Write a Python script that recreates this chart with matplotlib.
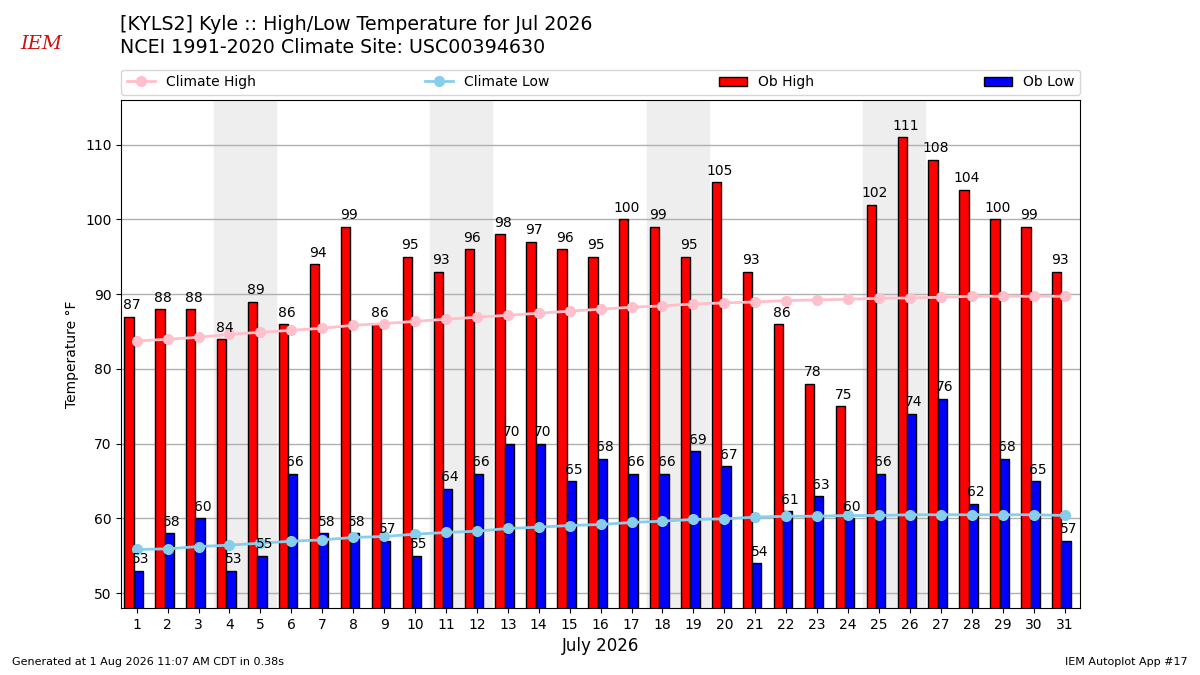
import numpy as np
import matplotlib.pyplot as plt

days = np.arange(1, 32)
ob_high = [87, 88, 88, 84, 89, 86, 94, 99, 86, 95, 93, 96, 98, 97, 96, 95,
           100, 99, 95, 105, 93, 86, 78, 75, 102, 111, 108, 104, 100, 99, 93]
ob_low = [53, 58, 60, 53, 55, 66, 58, 58, 57, 55, 64, 66, 70, 70, 65, 68,
          66, 66, 69, 67, 54, 61, 63, 60, 66, 74, 76, 62, 68, 65, 57]
clim_high = [83.75, 83.98, 84.24, 84.64, 84.91, 85.18, 85.45, 85.85, 86.07, 86.38,
             86.65, 86.92, 87.19, 87.46, 87.73, 88.0, 88.26, 88.44, 88.7, 88.84,
             88.97, 89.15, 89.24, 89.33, 89.46, 89.5, 89.6, 89.73, 89.73, 89.73, 89.73]
clim_low = [55.85, 55.94, 56.25, 56.43, 56.7, 56.96, 57.14, 57.46, 57.59, 57.9,
            58.13, 58.3, 58.66, 58.84, 59.06, 59.2, 59.47, 59.64, 59.87, 59.95,
            60.18, 60.3, 60.3, 60.4, 60.4, 60.5, 60.5, 60.5, 60.5, 60.5, 60.4]
weekends = [(4, 5), (11, 12), (18, 19), (25, 26)]

fig = plt.figure(figsize=(12, 6.75), dpi=100)
ax = fig.add_axes([0.101, 0.099, 0.799, 0.753])

for a, b in weekends:
    ax.axvspan(a - 0.5, b + 0.5, color='#eeeeee', zorder=0)

ax.plot(days, clim_high, color='pink', marker='o', ms=7, lw=2,
        label='Climate High', zorder=3)
ax.plot(days, clim_low, color='skyblue', marker='o', ms=7, lw=2,
        label='Climate Low', zorder=3)
ax.bar(days - 0.4, ob_high, width=0.3, align='edge', color='r', edgecolor='k',
       label='Ob High', zorder=2)
ax.bar(days - 0.1, ob_low, width=0.3, align='edge', color='b', edgecolor='k',
       label='Ob Low', zorder=2)

for d, hi, lo in zip(days, ob_high, ob_low):
    ax.text(d - 0.15, hi + 0.6, str(hi), ha='center', va='bottom', fontsize=10, zorder=4)
    ax.text(d + 0.13, lo + 0.6, str(lo), ha='center', va='bottom', fontsize=10, zorder=4)

ax.set_xlim(0.5, 31.5)
ax.set_ylim(48, 116)
ax.set_xticks(days)
ax.set_yticks(np.arange(50, 111, 10))
ax.yaxis.grid(True, color='#b0b0b0', lw=1, zorder=1)
ax.set_axisbelow(True)
ax.set_ylabel('Temperature \u00b0F', fontsize=10)
ax.set_xlabel('July 2026', fontsize=12)

ax.legend(ncol=4, mode='expand', loc='lower left',
          bbox_to_anchor=(0, 1.01, 1, 0.05), fontsize=10, borderaxespad=0)

# title block and footer
fig.text(0.1, 0.963, '[KYLS2] Kyle :: High/Low Temperature for Jul 2026', fontsize=13.7,
         va='center')
fig.text(0.1, 0.929, 'NCEI 1991-2020 Climate Site: USC00394630', fontsize=13.7,
         va='center')
fig.text(0.017, 0.935, 'IEM', fontsize=14, color='#cc1111', family='serif',
         style='italic', va='center')
fig.text(0.01, 0.015, 'Generated at 1 Aug 2026 11:07 AM CDT in 0.38s', fontsize=8)
fig.text(0.99, 0.015, 'IEM Autoplot App #17', fontsize=8, ha='right')

plt.savefig('out.png', dpi=100)
